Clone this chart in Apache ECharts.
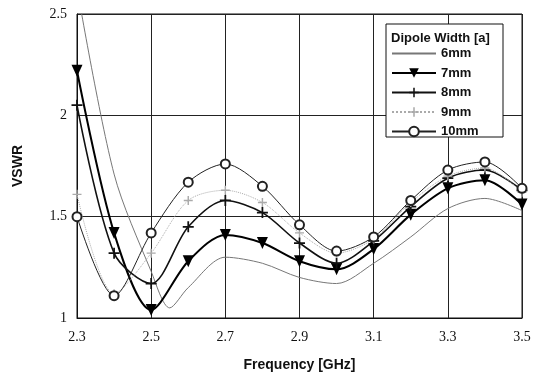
<!DOCTYPE html>
<html>
<head>
<meta charset="utf-8">
<script src="https://cdn.jsdelivr.net/npm/echarts@6/dist/echarts.min.js"></script>
<style>
  html, body { margin: 0; padding: 0; background: #fff; }
  #chart { width: 543px; height: 377px; }
</style>
</head>
<body>
<div id="chart"></div>
<script>
// frequency points (GHz) where the markers sit
const freq = [2.3, 2.4, 2.5, 2.6, 2.7, 2.8, 2.9, 3.0, 3.1, 3.2, 3.3, 3.4, 3.5];
// 6mm curve has no markers, a few more points around the dip
const freq6 = [2.3, 2.4, 2.5, 2.55, 2.6, 2.7, 2.8, 2.9, 3.0, 3.1, 3.2, 3.3, 3.4, 3.5];
const w6 = [2.63, 1.71, 1.23, 1.05, 1.15, 1.30, 1.27, 1.20, 1.17, 1.27, 1.40, 1.54, 1.59, 1.53];
const w7 = [2.22, 1.42, 1.04, 1.28, 1.41, 1.37, 1.28, 1.24, 1.34, 1.51, 1.64, 1.68, 1.56];
const w8 = [2.05, 1.32, 1.17, 1.45, 1.58, 1.52, 1.37, 1.27, 1.38, 1.55, 1.69, 1.73, 1.63];
const w9 = [1.61, 1.12, 1.32, 1.58, 1.63, 1.57, 1.42, 1.32, 1.39, 1.57, 1.70, 1.74, 1.62];
const w10 = [1.50, 1.11, 1.42, 1.67, 1.76, 1.65, 1.46, 1.33, 1.40, 1.58, 1.73, 1.77, 1.64];
const names = ['6mm', '7mm', '8mm', '9mm', '10mm'];

const pair = (xs, ys) => xs.map((x, i) => [x, ys[i]]);
const plus = 'path://M4.2,0H5.8V10H4.2Z M0,4.2H10V5.8H0Z';

const chart = echarts.init(document.getElementById('chart'));
chart.setOption({
  animation: false,
  grid: { left: 77, right: 21, top: 14, bottom: 54, show: true, borderColor: '#111', borderWidth: 1 },
  xAxis: {
    type: 'value', min: 2.3, max: 3.5, interval: 0.2,
    name: 'Frequency [GHz]', nameLocation: 'middle', nameGap: 40,
    nameTextStyle: { fontFamily: 'Liberation Sans', fontWeight: 'bold', fontSize: 14, color: '#111' },
    axisLine: { lineStyle: { color: '#111' } },
    axisTick: { show: false },
    splitLine: { lineStyle: { color: '#222', width: 1 } },
    axisLabel: { margin: 12, fontFamily: 'Liberation Serif', fontSize: 14, color: '#111',
      formatter: v => v.toFixed(1) }
  },
  yAxis: {
    type: 'value', min: 1, max: 2.5, interval: 0.5,
    name: 'VSWR', nameLocation: 'middle', nameGap: 52,
    nameTextStyle: { fontFamily: 'Liberation Sans', fontWeight: 'bold', fontSize: 14, color: '#111' },
    axisLine: { show: true, lineStyle: { color: '#111' } },
    axisTick: { show: false },
    splitLine: { lineStyle: { color: '#222', width: 1 } },
    axisLabel: { margin: 10, fontFamily: 'Liberation Serif', fontSize: 14, color: '#111' }
  },
  graphic: [
    { type: 'rect', z: 50, shape: { x: 386, y: 24, width: 117, height: 113 },
      style: { fill: '#fff', stroke: '#111', lineWidth: 1 } },
    { type: 'text', z: 51, x: 391, y: 32,
      style: { text: 'Dipole Width [a]', font: 'bold 13px "Liberation Sans"', fill: '#111' } }
  ],
  legend: {
    z: 60, orient: 'vertical', left: 391, top: 47, padding: 0,
    itemWidth: 44, itemHeight: 12, itemGap: 6.5,
    textStyle: { fontFamily: 'Liberation Sans', fontWeight: 'bold', fontSize: 13, color: '#111' },
    data: [{ name: names[0], itemStyle: { opacity: 0 } }, names[1], names[2], names[3], names[4]]
  },
  series: [
    { name: names[0], type: 'line', smooth: 0.3, showSymbol: false, symbol: 'none',
      data: pair(freq6, w6), lineStyle: { color: '#777', width: 1 }, itemStyle: { color: '#777' } },
    { name: names[1], type: 'line', smooth: 0.3, symbol: 'triangle', symbolRotate: 180, symbolSize: [11, 12],
      data: pair(freq, w7), lineStyle: { color: '#000', width: 2 }, itemStyle: { color: '#000' } },
    { name: names[2], type: 'line', smooth: 0.3, symbol: plus, symbolSize: 11,
      data: pair(freq, w8), lineStyle: { color: '#111', width: 1.6 }, itemStyle: { color: '#111' } },
    { name: names[3], type: 'line', smooth: 0.3, symbol: plus, symbolSize: 9,
      data: pair(freq, w9), lineStyle: { color: '#aaa', width: 1, type: 'dotted' }, itemStyle: { color: '#aaa' } },
    { name: names[4], type: 'line', smooth: 0.3, symbol: 'emptyCircle', symbolSize: 9,
      data: pair(freq, w10), lineStyle: { color: '#222', width: 1 },
      itemStyle: { color: '#222', borderWidth: 1.2 } }
  ]
});
</script>
</body>
</html>
